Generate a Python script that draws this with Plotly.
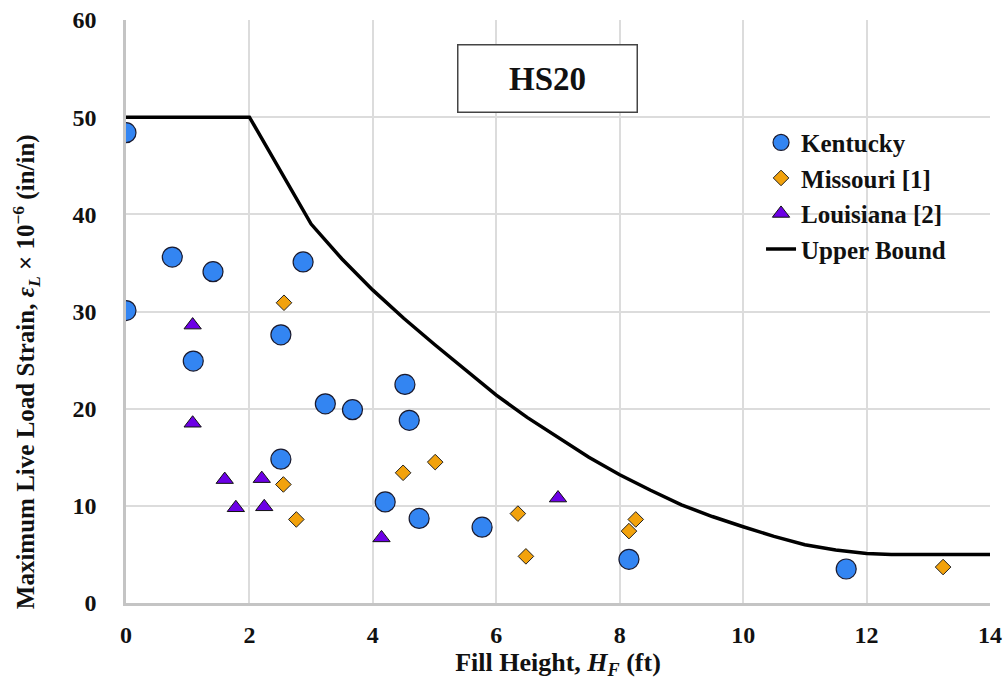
import plotly.graph_objects as go

# Kentucky
ky_x = [0.0, 0.0, 0.75, 1.41, 1.09, 2.87, 2.51, 2.51, 3.23, 3.67, 4.52, 4.59, 4.20, 4.75, 5.77, 8.15, 11.67]
ky_y = [48.4, 30.1, 35.6, 34.1, 24.9, 35.1, 27.6, 14.8, 20.5, 19.9, 22.5, 18.8, 10.4, 8.7, 7.8, 4.5, 3.5]

# Missouri [1]
mo_x = [2.56, 2.55, 2.76, 4.49, 5.01, 6.35, 6.48, 8.15, 8.26, 13.24]
mo_y = [30.9, 12.2, 8.6, 13.4, 14.5, 9.2, 4.8, 7.4, 8.6, 3.7]

# Louisiana [2]
la_x = [1.08, 1.08, 1.60, 1.78, 2.20, 2.24, 4.14, 7.00]
la_y = [28.6, 18.5, 12.7, 9.8, 12.8, 9.9, 6.7, 10.8]

# Upper bound
ub_x = [0, 2, 3, 3.5, 4, 4.5, 5, 5.5, 6, 6.5, 7, 7.5, 8, 8.5, 9, 9.5, 10, 10.5, 11, 11.5, 12, 12.4, 14]
ub_y = [50, 50, 39, 35.4, 32.2, 29.3, 26.6, 24.0, 21.4, 19.1, 17.0, 15.0, 13.2, 11.6, 10.1, 8.9, 7.85, 6.85, 6.0, 5.45, 5.1, 5.0, 5.0]

x_ticks = [0, 2, 4, 6, 8, 10, 12, 14]
y_ticks = [0, 10, 20, 30, 40, 50, 60]

FONT = "Liberation Serif"
TXT = "#111111"

fig = go.Figure()
fig.add_trace(go.Scatter(x=ky_x, y=ky_y, mode="markers", name="Kentucky", legendgroup="a",
                         marker=dict(symbol="circle", size=20, color="#3385f2",
                                     line=dict(color="#1a1a2e", width=1.2))))
fig.add_trace(go.Scatter(x=mo_x, y=mo_y, mode="markers", name="Missouri [1]", legendgroup="b",
                         marker=dict(symbol="diamond", size=12, color="#f2a20c",
                                     line=dict(color="#222222", width=1))))
fig.add_trace(go.Scatter(x=la_x, y=la_y, mode="markers", name="Louisiana [2]", legendgroup="c",
                         marker=dict(symbol="triangle-up", size=15, color="#6c00e6",
                                     line=dict(color="#111111", width=1))))
fig.add_trace(go.Scatter(x=ub_x, y=ub_y, mode="lines", name="Upper Bound", legendgroup="d",
                         line=dict(color="#000000", width=3.5)))

axis_common = dict(
    showgrid=True, gridcolor="#dcdcdc", gridwidth=1.5,
    zeroline=False, showline=True, linecolor="#c4c4c4", linewidth=2.5,
    tickfont=dict(family=FONT, size=24, color=TXT, weight="bold"),
    ticks="", automargin=False, ticklabeloverflow="allow",
)

fig.update_xaxes(range=[0, 14], tickvals=x_ticks, ticklabelstandoff=8,
                 title=dict(text="Fill Height, <i>H<sub>F</sub></i> (ft)",
                            font=dict(family=FONT, size=26, color=TXT, weight="bold"),
                            standoff=4),
                 **axis_common)
fig.update_yaxes(range=[0, 60], tickvals=y_ticks, ticklabelstandoff=22,
                 **axis_common)

# y-axis title (placed as in the reference, offset below the plot centre)
fig.add_annotation(xref="paper", yref="paper", x=-0.1157, y=0.396,
                   text="Maximum Live Load Strain, <i>ε<sub>L</sub></i> × 10<sup>−6</sup> (in/in)",
                   textangle=-90, showarrow=False, xanchor="center", yanchor="middle",
                   font=dict(family=FONT, size=25, color=TXT, weight="bold"))

fig.add_annotation(xref="paper", yref="paper", x=0.488, y=0.9005,
                   text="HS20", showarrow=False,
                   font=dict(family=FONT, size=33, color=TXT, weight="bold"),
                   width=176, height=64, bordercolor="#444444", borderwidth=1.5,
                   bgcolor="#ffffff", xanchor="center", yanchor="middle")

fig.update_layout(
    width=1005, height=690,
    margin=dict(l=126, r=15, t=20, b=87),
    plot_bgcolor="#ffffff", paper_bgcolor="#ffffff",
    showlegend=True,
    legend=dict(x=0.735, y=0.829, xanchor="left", yanchor="top",
                bgcolor="rgba(255,255,255,0)",
                font=dict(family=FONT, size=25, color=TXT, weight="bold"),
                traceorder="grouped", tracegroupgap=0),
)

fig.write_html("out.html", config={"displayModeBar": False},
               post_script="document.body.style.margin='0';")
